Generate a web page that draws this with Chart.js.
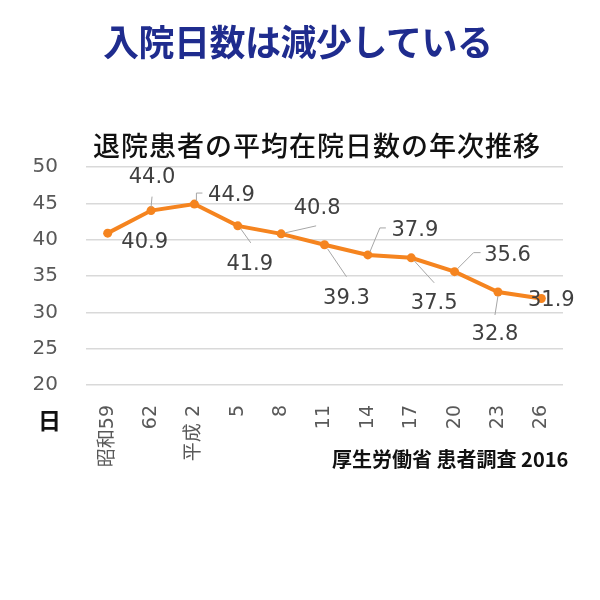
<!DOCTYPE html>
<html>
  <head>
    <meta charset="UTF-8">
    <title>退院患者の平均在院日数の年次推移</title>
    <script src="https://cdn.jsdelivr.net/npm/chart.js@4"></script>
    <style type="text/css">
      html, body { margin: 0; padding: 0; background: #fff; }
      #wrap { position: relative; width: 600px; height: 600px; }
      #chart { position: absolute; left: 0; top: 0; }
      .txt { position: absolute; white-space: nowrap; font-family: "Noto Sans CJK JP", sans-serif; }
      #title { left: 103px; top: 14px; font-size: 36px; color: #1f2c8e; font-weight: 700; letter-spacing: -0.5px; }
      #sub { left: 93px; top: 125px; font-size: 27px; color: #111; font-weight: 500; letter-spacing: 1px; }
      #unit { left: 38px; top: 402px; font-size: 23px; color: #111; font-weight: 700; }
      #src { left: 332px; top: 444px; font-size: 20px; color: #111; font-weight: 700; }
    </style>
  </head>
  <body>
    <div id="wrap">
      <canvas id="chart" width="600" height="600"></canvas>
      <div class="txt" id="title">入院日数は減少している</div>
      <div class="txt" id="sub">退院患者の平均在院日数の年次推移</div>
      <div class="txt" id="unit">日</div>
      <div class="txt" id="src">厚生労働省 患者調査 2016</div>
    </div>
    <script type="text/javascript">
      // survey years (昭和 / 平成)
      const years = ["昭和59", "62", "平成 2", "5", "8", "11", "14", "17", "20", "23", "26"]
      // average days in hospital
      const days = [40.9, 44.0, 44.9, 41.9, 40.8, 39.3, 37.9, 37.5, 35.6, 32.8, 31.9]
      const yTicks = [20, 25, 30, 35, 40, 45, 50]

      // where each value label sits relative to its point, and its leader line
      const labelPos = [
        { dx: 37, dy: 9, lead: null },
        { dx: 1, dy: -33, lead: [[0, -3], [1, -14]] },
        { dx: 37, dy: -9, lead: [[2, -3], [2, -11], [8, -11]] },
        { dx: 12, dy: 39, lead: [[3, 3], [13, 17]] },
        { dx: 36, dy: -25, lead: [[4, -1], [35, -8]] },
        { dx: 22, dy: 54, lead: [[3, 4], [22, 32]] },
        { dx: 47, dy: -24, lead: [[2, -3], [12, -27], [18, -27]] },
        { dx: 23, dy: 46, lead: [[3, 3], [23, 25]] },
        { dx: 53, dy: -16, lead: [[3, -3], [19, -19], [26, -19]] },
        { dx: -3, dy: 43, lead: [[0, 4], [-3, 23]] },
        { dx: 10, dy: 2, lead: null }
      ]

      const valueLabels = {
        id: "valueLabels",
        afterDatasetsDraw(chart) {
          const c = chart.ctx
          const pts = chart.getDatasetMeta(0).data
          c.save()
          pts.forEach((p, i) => {
            const lp = labelPos[i]
            if (lp.lead) {
              c.strokeStyle = "#a6a6a6"
              c.lineWidth = 1
              c.beginPath()
              lp.lead.forEach((o, k) => {
                if (k == 0) c.moveTo(p.x + o[0], p.y + o[1])
                else c.lineTo(p.x + o[0], p.y + o[1])
              })
              c.stroke()
            }
            c.fillStyle = "#404040"
            c.font = "21px 'DejaVu Sans'"
            c.textAlign = "center"
            c.textBaseline = "middle"
            c.fillText(days[i].toFixed(1), p.x + lp.dx, p.y + lp.dy)
          })
          c.restore()
        }
      }

      var ctx = document.getElementById("chart")

      var lineChart = new Chart(ctx, {
        type: "line",
        data: {
          labels: years,
          datasets: [{
            data: days,
            borderColor: "#f5841f",
            backgroundColor: "#f5841f",
            borderWidth: 4,
            pointRadius: 4.5,
            pointBorderWidth: 0,
            tension: 0
          }]
        },
        options: {
          responsive: false,
          animation: false,
          layout: { padding: { left: 20, right: 37, top: 167, bottom: 115 } },
          plugins: {
            legend: { display: false },
            tooltip: { enabled: false }
          },
          scales: {
            x: {
              offset: true,
              grid: { display: false },
              border: { display: false },
              afterFit: s => { s.height = 100 },
              ticks: {
                minRotation: 90,
                maxRotation: 90,
                padding: 12,
                color: "#595959",
                font: { family: "'DejaVu Sans', 'Noto Sans CJK JP'", size: 19 }
              }
            },
            y: {
              min: yTicks[0],
              max: yTicks[yTicks.length - 1],
              afterFit: s => { s.width = 66 },
              afterBuildTicks: s => { s.ticks = yTicks.map(v => ({ value: v })) },
              grid: { color: "#d9d9d9", lineWidth: 1.5, drawTicks: false },
              border: { display: false },
              ticks: {
                padding: 28,
                color: "#595959",
                font: { family: "'DejaVu Sans'", size: 20 }
              }
            }
          }
        },
        plugins: [valueLabels]
      })
    </script>
  </body>
</html>
